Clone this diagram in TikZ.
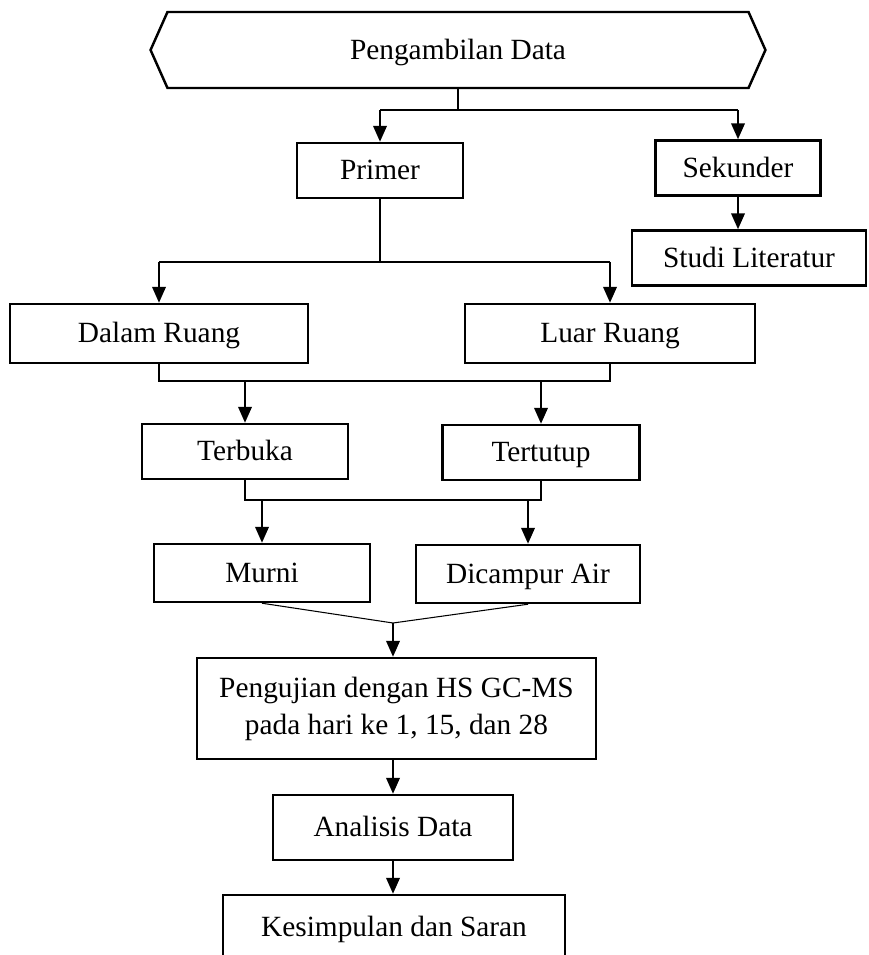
\documentclass[tikz,border=0pt]{standalone}
\usepackage{fontspec}
\setmainfont{Liberation Serif}
\usetikzlibrary{arrows.meta,shapes.symbols}
\tikzset{
  kotak/.style={draw, line width=1.4pt, rectangle, inner sep=2pt, align=center},
  kotak1/.style={kotak, text height=0.88em, text depth=0.24em},
  panah/.style={line width=1.3pt, -{Triangle[length=0.32cm,width=0.27cm]}},
  garis/.style={line width=0.6pt},
}
\begin{document}
\begin{tikzpicture}[x=0.02cm, y=-0.02cm]
\fontsize{16.7}{21}\selectfont
\useasboundingbox (0,0) rectangle (868,955);
% kotak-kotak
\node[draw, line width=1.4pt, signal, signal to=west and east, signal pointer angle=132,
  minimum width=12.3cm, minimum height=1.52cm, text height=0.88em, text depth=0.24em] (ambil) at (458,50) {Pengambilan Data};
\node[kotak1, minimum width=3.32cm, minimum height=1.1cm] (primer) at (380,170.5) {Primer};
\node[kotak1, minimum width=3.3cm, minimum height=1.1cm] (sekunder) at (738,168) {Sekunder};
\node[kotak1, minimum width=4.68cm, minimum height=1.1cm] (studi) at (749,258) {Studi Literatur};
\node[kotak1, minimum width=5.96cm, minimum height=1.18cm] (dalam) at (159,333.5) {Dalam Ruang};
\node[kotak1, minimum width=5.8cm, minimum height=1.18cm] (luar) at (610,333.5) {Luar Ruang};
\node[kotak1, minimum width=4.12cm, minimum height=1.1cm] (terbuka) at (245,451.5) {Terbuka};
\node[kotak1, minimum width=3.94cm, minimum height=1.1cm] (tertutup) at (541,452.5) {Tertutup};
\node[kotak1, minimum width=4.32cm, minimum height=1.16cm] (murni) at (262,573) {Murni};
\node[kotak1, minimum width=4.48cm, minimum height=1.16cm] (campur) at (528,574) {Dicampur Air};
\node[kotak, minimum width=7.98cm, minimum height=2.02cm] (uji) at (396.5,708.5) {Pengujian dengan HS GC-MS\\pada hari ke 1, 15, dan 28};
\node[kotak1, minimum width=4.8cm, minimum height=1.3cm] (analisis) at (393,827.5) {Analisis Data};
\node[kotak1, minimum width=6.84cm, minimum height=1.28cm] (simpul) at (394,927) {Kesimpulan dan Saran};
% titik cabang
\coordinate (c1) at (458,110);
\coordinate (c2) at (380,262);
\coordinate (c3) at (0,381);
\coordinate (c4) at (0,500);
\coordinate (c5) at (393,623);
% penghubung
\path[draw,garis] (ambil.south) -- (c1);
\path[draw,garis] (primer.north |- c1) -- (sekunder.north |- c1);
\path[draw,panah] (primer.north |- c1) -- (primer.north);
\path[draw,panah] (sekunder.north |- c1) -- (sekunder.north);
\path[draw,panah] (sekunder.south) -- (sekunder.south |- studi.north);
\path[draw,garis] (primer.south) -- (c2);
\path[draw,garis] (dalam.north |- c2) -- (luar.north |- c2);
\path[draw,panah] (dalam.north |- c2) -- (dalam.north);
\path[draw,panah] (luar.north |- c2) -- (luar.north);
\path[draw,garis] (dalam.south) -- (dalam.south |- c3) -- (luar.south |- c3) -- (luar.south);
\path[draw,panah] (terbuka.north |- c3) -- (terbuka.north);
\path[draw,panah] (tertutup.north |- c3) -- (tertutup.north);
\path[draw,garis] (terbuka.south) -- (terbuka.south |- c4) -- (tertutup.south |- c4) -- (tertutup.south);
\path[draw,panah] (murni.north |- c4) -- (murni.north);
\path[draw,panah] (campur.north |- c4) -- (campur.north);
\path[draw,garis] (murni.south) -- (c5) -- (campur.south);
\path[draw,panah] (c5) -- (c5 |- uji.north);
\path[draw,panah] (uji.south -| c5) -- (c5 |- analisis.north);
\path[draw,panah] (analisis.south) -- (analisis.south |- simpul.north);
\end{tikzpicture}
\end{document}
